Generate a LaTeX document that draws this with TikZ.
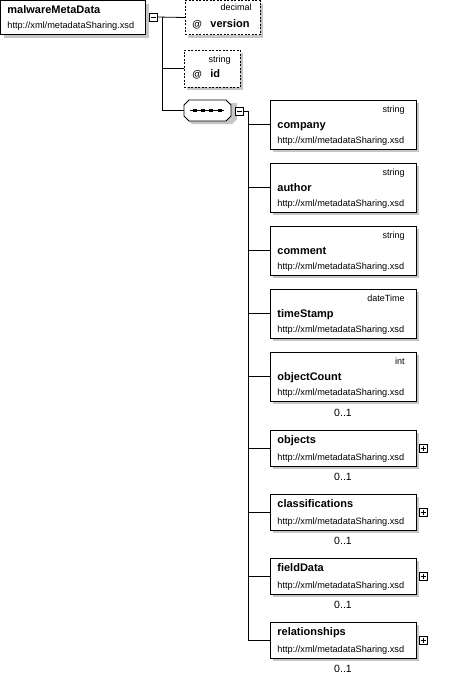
\documentclass[tikz,border=0pt]{standalone}
\usepackage{fontspec}
\setmainfont{Liberation Sans}
\usetikzlibrary{shadows}
\begin{document}
\begin{tikzpicture}[x=1pt,y=-1pt,line width=0.8pt,
  shadowed/.style={drop shadow={shadow xshift=3pt,shadow yshift=-3pt,fill=gray!45,opacity=1}},
  box/.style={draw,fill=white,inner sep=0,outer sep=0,anchor=north west,shadowed},
  attbox/.style={box,dash pattern=on 2pt off 1.5pt},
  pm/.style={draw,fill=white,inner sep=0,outer sep=0,minimum size=8pt,line width=0.7pt},
  nm/.style={font=\fontsize{11}{13}\selectfont\bfseries,inner sep=0,anchor=base west},
  url/.style={font=\fontsize{9.2}{11}\selectfont,inner sep=0,anchor=base west},
  atsign/.style={font=\fontsize{9.8}{11}\selectfont\bfseries,inner sep=0,anchor=base west},
  typ/.style={font=\fontsize{9}{11}\selectfont,inner sep=0,anchor=base east},
  occ/.style={font=\fontsize{10.5}{12}\selectfont,inner sep=0,anchor=base},
  conn/.style={line width=0.8pt}]
\useasboundingbox (0,0) rectangle (456,678);
% root element
\node[box,minimum width=145pt,minimum height=34pt] (root) at (0.5,0.5) {};
\node[nm] (rootname) at (7,13) {malwareMetaData};
\node[url] (rooturl) at (7,28) {http://xml/metadataSharing.xsd};
\node[pm] (rminus) at (153,17) {};
\draw[line width=0.7pt] ([xshift=-2.5pt]rminus.center) -- ([xshift=2.5pt]rminus.center);
% attributes
\node[attbox,minimum width=75pt,minimum height=34pt] (version) at (185,0.5) {};
\node[typ] (version-type) at (252,10) {decimal};
\node[atsign] (version-at) at (192,27) {@};
\node[nm] (version-name) at (210,27) {version};
\node[attbox,minimum width=56pt,minimum height=37pt] (id) at (184,50) {};
\node[typ] (id-type) at (231,62) {string};
\node[atsign] (id-at) at (192,77) {@};
\node[nm] (id-name) at (210,77) {id};
% sequence compositor
\node[minimum width=47pt,minimum height=21pt,inner sep=0,outer sep=0] (seq) at (207.5,110.5) {};
\fill[gray!45] (192,103) -- (237,103) -- (237,106) -- (237,119) -- (232,124) -- (192,124) -- (187,119) -- (187,108) -- cycle;
\draw[fill=white] (189,100) -- (226,100) -- (231,105) -- (231,116) -- (226,121) -- (189,121) -- (184,116) -- (184,105) -- cycle;
\draw[line width=0.8pt] (190,110.5) -- (224,110.5);
\foreach \dx in {194.5,202.5,210.5,219.5}
  \fill (\dx-2,108.8) rectangle (\dx+2,112.2);
\node[pm] (sminus) at (239,111) {};
\draw[line width=0.7pt] ([xshift=-2.5pt]sminus.center) -- ([xshift=2.5pt]sminus.center);
% connectors of root
\coordinate (j1) at (162,17);
\draw[conn] (rminus.east) -- (version.west);
\draw[conn] (j1) |- (id.west);
\draw[conn] (j1) |- (seq.west);
\coordinate (j2) at (248,111);
\draw[conn] (sminus.east) -- (j2);
% typed children
\foreach \n/\t/\y in {company/string/100,author/string/163,comment/string/226,timeStamp/dateTime/289,objectCount/int/352}{
  \node[box,minimum width=146pt,minimum height=49pt] (\n) at (270,\y) {};
  \node[typ] (\n-type) at (405,\y+12) {\t};
  \node[nm] (\n-name) at (277,\y+28) {\n};
  \node[url] (\n-url) at (277,\y+43) {http://xml/metadataSharing.xsd};
  \draw[conn] (j2) |- (\n.west);
}
\node[occ] (objectCount-occ) at (343,416) {0..1};
% complex children
\foreach \n/\y in {objects/430,classifications/494,fieldData/558,relationships/622}{
  \node[box,minimum width=146pt,minimum height=36pt] (\n) at (270,\y) {};
  \node[nm] (\n-name) at (277,\y+13) {\n};
  \node[url] (\n-url) at (277,\y+30) {http://xml/metadataSharing.xsd};
  \node[occ] (\n-occ) at (343,\y+50) {0..1};
  \node[pm] (\n-plus) at (423,\y+18) {};
  \draw[line width=0.7pt] ([xshift=-2.5pt]\n-plus.center) -- ([xshift=2.5pt]\n-plus.center);
  \draw[line width=0.7pt] ([yshift=-2.5pt]\n-plus.center) -- ([yshift=2.5pt]\n-plus.center);
  \draw[conn] (j2) |- (\n.west);
}
\end{tikzpicture}
\end{document}
